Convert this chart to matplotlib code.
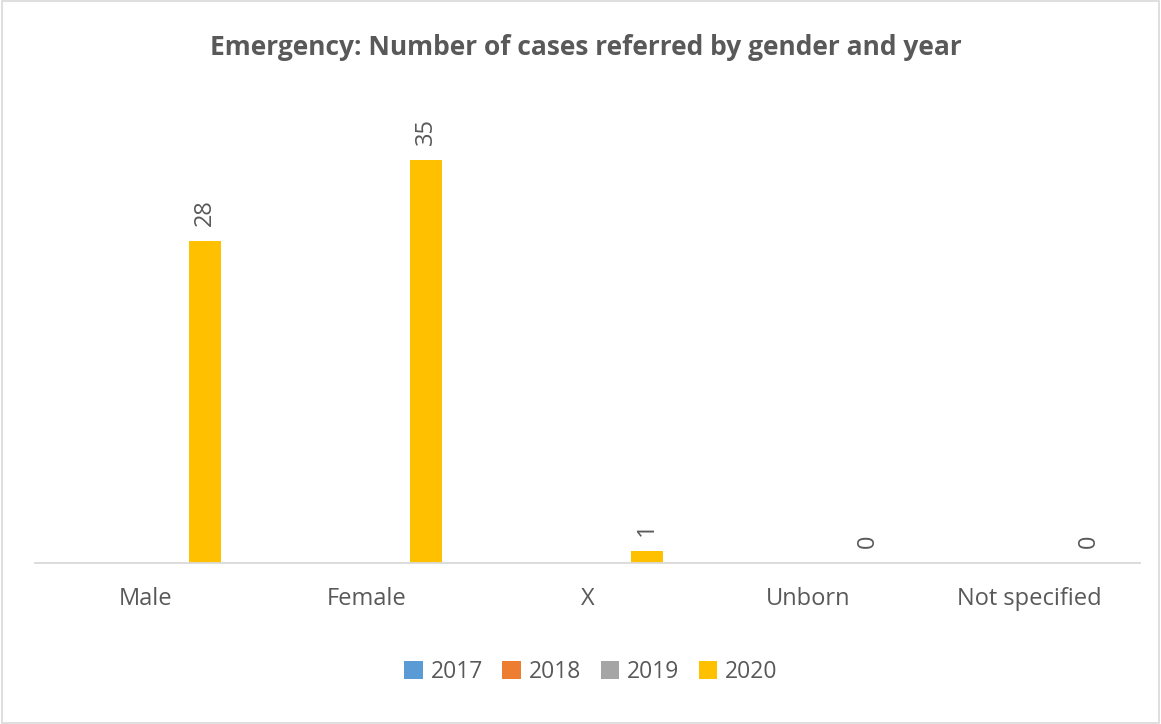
import numpy as np
import matplotlib.pyplot as plt
from matplotlib.patches import Rectangle

plt.rcParams['font.family'] = ['Open Sans', 'DejaVu Sans']

categories = ['Male', 'Female', 'X', 'Unborn', 'Not specified']
years = ['2017', '2018', '2019', '2020']
cases_2017 = [None, None, None, None, None]
cases_2018 = [None, None, None, None, None]
cases_2019 = [None, None, None, None, None]
cases_2020 = [28, 35, 1, 0, 0]

colors = ['#5B9BD5', '#ED7D31', '#A5A5A5', '#FFC000']
text_color = '#595959'

fig = plt.figure(figsize=(11.61, 7.24), dpi=100)
ax = fig.add_axes([0.0301, 0.2224, 0.9518, 0.6354])

x = np.arange(len(categories))
width = 0.143
step = width * 1.25  # slight gap between series
series = [cases_2017, cases_2018, cases_2019, cases_2020]

for i, (yr, vals, c) in enumerate(zip(years, series, colors)):
    vals = np.array([np.nan if v is None else v for v in vals], dtype=float)
    bars = ax.bar(x + (i - 1.5) * step, vals, width, color=c, label=yr)
    if not np.all(np.isnan(vals)):
        ax.bar_label(bars, labels=[str(int(v)) for v in vals], rotation=90,
                     padding=11, fontsize=17, color=text_color)

ax.set_xlim(-0.5, len(categories) - 0.5)
ax.set_ylim(0, 40)
ax.set_xticks(x)
ax.set_xticklabels(categories, fontsize=17, color=text_color)
ax.tick_params(axis='x', length=0, pad=17)
ax.set_yticks([])
for s in ['top', 'right', 'left']:
    ax.spines[s].set_visible(False)
ax.spines['bottom'].set_color('#D9D9D9')
ax.spines['bottom'].set_linewidth(1.3)

fig.text(0.505, 0.935, 'Emergency: Number of cases referred by gender and year',
         ha='center', va='center', fontsize=19, fontweight='bold', color=text_color)

fig.legend(loc='center', bbox_to_anchor=(0.509, 0.072), ncol=4, frameon=False,
           fontsize=16.5, labelcolor=text_color, handlelength=0.8, handleheight=0.8,
           handletextpad=0.35, columnspacing=0.85)

fig.patches.append(Rectangle((0.002, 0.002), 0.996, 0.996, transform=fig.transFigure,
                             fill=False, edgecolor='#D9D9D9', linewidth=1.2))

fig.savefig('out.png', dpi=100, facecolor='white')
